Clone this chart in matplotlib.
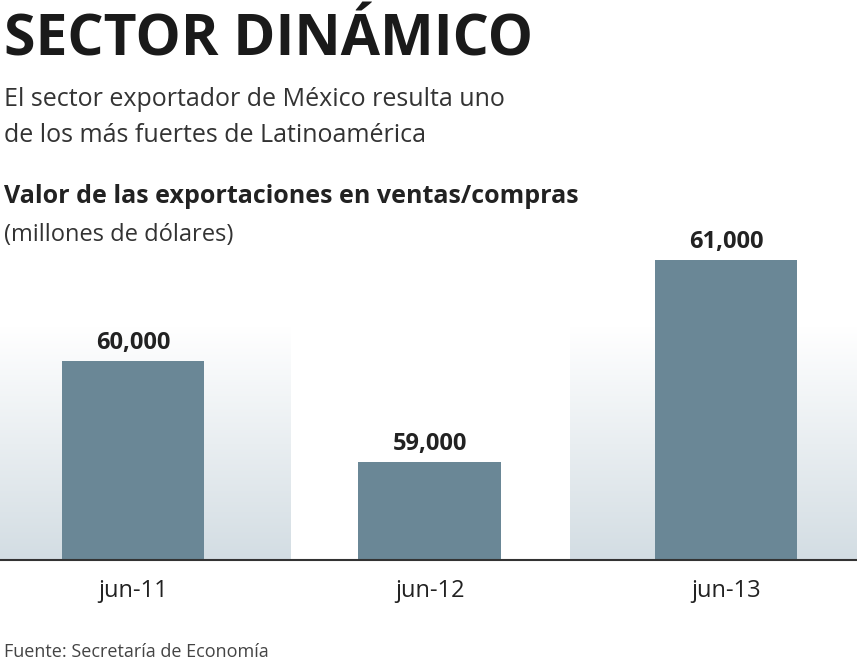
import matplotlib
matplotlib.use("Agg")
import matplotlib.pyplot as plt
import numpy as np

categories = ["jun-11", "jun-12", "jun-13"]
values = [60000, 59000, 61000]
value_labels = ["60,000", "59,000", "61,000"]

plt.rcParams['font.family'] = ['Open Sans', 'DejaVu Sans']
fig = plt.figure(figsize=(8.57, 6.66), dpi=100)
H = 666.0
ax = fig.add_axes([0, (H-560)/H, 1, (560-250)/H])
x = np.arange(len(categories))
ymin, ymax = 58030, 61100

grad = np.linspace(1, 0, 256).reshape(-1, 1)
from matplotlib.colors import LinearSegmentedColormap
cmap = LinearSegmentedColormap.from_list("g", ["#ffffff", "#d3dde3"])
gtop = 60330
for x0, x1 in [(-0.449, 0.53), (1.474, 2.442)]:
    ax.imshow(grad, extent=[x0, x1, ymin, gtop], aspect='auto', cmap=cmap,
              origin='lower', zorder=0)
ax.set_xlim(-0.449, 2.442)
ax.set_ylim(ymin, ymax)

ax.bar(x, values, width=0.48, bottom=0, color="#6a8796", zorder=2)
for xi, v, lab in zip(x, values, value_labels):
    ax.text(xi, v + 60, lab, ha='center', va='bottom', fontsize=17, fontweight='bold', color='#222222')

for s in ['top', 'right', 'left']:
    ax.spines[s].set_visible(False)
ax.spines['bottom'].set_color('#333333')
ax.spines['bottom'].set_linewidth(1.5)
ax.set_yticks([])
ax.set_xticks(x)
ax.set_xticklabels(categories, fontsize=17, color='#222222')
ax.tick_params(axis='x', length=0, pad=14)

fig.text(0.005, 1-40/H, "SECTOR DINÁMICO", fontsize=41, fontweight='bold', color='#1a1a1a', va='center')
fig.text(0.005, 1-100/H, "El sector exportador de México resulta uno", fontsize=18, color='#333333', va='center')
fig.text(0.005, 1-135/H, "de los más fuertes de Latinoamérica", fontsize=18, color='#333333', va='center')
fig.text(0.005, 1-197/H, "Valor de las exportaciones en ventas/compras", fontsize=18, fontweight='bold', color='#222222', va='center')
fig.text(0.005, 1-235/H, "(millones de dólares)", fontsize=17, color='#333333', va='center')
fig.text(0.005, 1-652/H, "Fuente: Secretaría de Economía", fontsize=13, color='#444444', va='center')

fig.savefig("out.png", dpi=100)
